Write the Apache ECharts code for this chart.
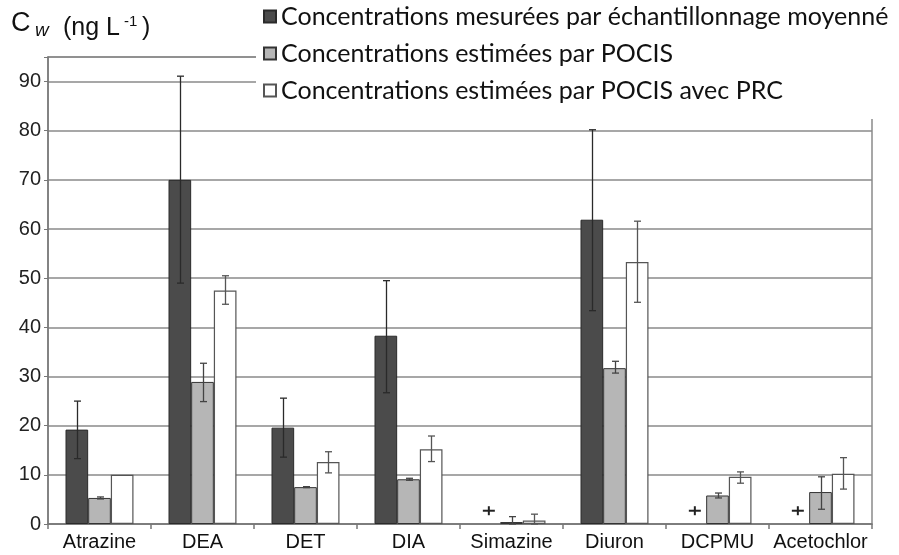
<!DOCTYPE html>
<html>
<head>
<meta charset="utf-8">
<script src="https://cdn.jsdelivr.net/npm/echarts@6/dist/echarts.min.js"></script>
<style>html,body{margin:0;padding:0;background:#fff}#c{width:899px;height:555px}</style>
</head>
<body>
<div id="c"></div>
<script>
const categories = ['Atrazine','DEA','DET','DIA','Simazine','Diuron','DCPMU','Acetochlor'];
const seriesNames = ['Concentrations mesurées par échantillonnage moyenné','Concentrations estimées par POCIS','Concentrations estimées par POCIS avec PRC'];
const measured     = [19.2, 70.0, 19.6, 38.3, null, 61.9, null, null];
const measuredLow  = [13.3, 49.0, 13.6, 26.7, null, 43.4, null, null];
const measuredHigh = [25.0, 91.1, 25.6, 49.5, null, 80.2, null, null];
const pocis        = [5.3, 28.9, 7.5, 9.1, 0.4, 31.7, 5.8, 6.5];
const pocisLow     = [5.1, 24.9, 7.4, 8.9, 0.0, 30.7, 5.3, 3.0];
const pocisHigh    = [5.5, 32.7, 7.6, 9.3, 1.5, 33.1, 6.3, 9.6];
const prc          = [10.0, 47.5, 12.6, 15.2, 0.7, 53.3, 9.6, 10.2];
const prcLow       = [null, 44.7, 10.4, 12.7, 0.0, 45.1, 8.3, 7.1];
const prcHigh      = [null, 50.5, 14.7, 17.9, 2.0, 61.6, 10.6, 13.5];
const belowLimit   = [null, null, null, null, 2.7, null, 2.7, 2.7];
const yTicks = [0,10,20,30,40,50,60,70,80,90];

const BAR_FRAC = 0.22;
function errData(lo, hi){ return categories.map((c,i)=>[i, lo[i], hi[i]]).filter(d=>d[1]!=null && d[2]!=null); }
function errRender(offIdx, color){
  return function(params, api){
    const ci = api.value(0), lo = api.value(1), hi = api.value(2);
    const band = api.size([1,0])[0];
    const bw = band*BAR_FRAC;
    const pLo = api.coord([ci, lo]), pHi = api.coord([ci, hi]);
    const x = Math.round(pLo[0] + (offIdx-1)*bw) + 0.5;
    const cap = 3.5;
    const st = {stroke:color, lineWidth:1.3};
    return {type:'group', children:[
      {type:'line', shape:{x1:x,y1:pLo[1],x2:x,y2:pHi[1]}, style:st},
      {type:'line', shape:{x1:x-cap,y1:pLo[1],x2:x+cap,y2:pLo[1]}, style:st},
      {type:'line', shape:{x1:x-cap,y1:pHi[1],x2:x+cap,y2:pHi[1]}, style:st}
    ]};
  };
}
function plusRender(params, api){
  const ci = api.value(0), v = api.value(1);
  const band = api.size([1,0])[0];
  const bw = band*BAR_FRAC;
  const p = api.coord([ci, v]);
  const x = p[0] - bw, y = p[1];
  const st = {stroke:'#222', lineWidth:2};
  return {type:'group', children:[
    {type:'line', shape:{x1:x-6,y1:y,x2:x+6,y2:y}, style:st},
    {type:'line', shape:{x1:x,y1:y-4.5,x2:x,y2:y+4.5}, style:st}
  ]};
}

const chart = echarts.init(document.getElementById('c'));
const axisFont = 'Liberation Sans, Arial, sans-serif';
chart.setOption({
  animation:false,
  backgroundColor:'#fff',
  grid:{left:48,right:27,top:57,bottom:31,show:true,borderColor:'#8a8a8a',borderWidth:1.5,backgroundColor:'transparent'},
  legend:{
    orient:'vertical', left:256, top:0,
    padding:[4,10,16,7], itemGap:12, itemWidth:12, itemHeight:12,
    icon:'rect',
    backgroundColor:'#fff', z:20,
    data:seriesNames,
    textStyle:{fontFamily:'Lato, sans-serif', fontSize:25, color:'#111'},
    selectedMode:false
  },
  graphic:[
    {type:'text', x:11, y:10, z:30, style:{text:'C', font:'27px Liberation Sans, Arial, sans-serif', fill:'#111'}},
    {type:'text', x:35, y:21, z:30, style:{text:'w', font:'italic 19px Liberation Sans, Arial, sans-serif', fill:'#111'}},
    {type:'text', x:63, y:16, z:30, style:{text:'(ng L', font:'25px Liberation Sans, Arial, sans-serif', fill:'#111'}},
    {type:'text', x:124, y:14, z:30, style:{text:'-1', font:'15px Liberation Sans, Arial, sans-serif', fill:'#111'}},
    {type:'text', x:142, y:16, z:30, style:{text:')', font:'25px Liberation Sans, Arial, sans-serif', fill:'#111'}}
  ],
  xAxis:{
    type:'category', data:categories,
    axisLine:{lineStyle:{color:'#777',width:1.5}},
    axisTick:{show:true,length:5,lineStyle:{color:'#777',width:1.5}},
    axisLabel:{fontFamily:axisFont,fontSize:20,color:'#111',margin:8,interval:0,hideOverlap:false},
    splitLine:{show:false}
  },
  yAxis:{
    type:'value', min:0, max:95, interval:10,
    axisLine:{show:true,lineStyle:{color:'#777',width:1.5}},
    axisTick:{show:true,length:4,lineStyle:{color:'#777'}},
    axisLabel:{fontFamily:axisFont,fontSize:20,color:'#222',margin:7,
      formatter:function(v){ return yTicks.indexOf(v)>=0 ? String(v) : ''; }},
    splitLine:{show:true,lineStyle:{color:'#8a8a8a',width:1.5}}
  },
  series:[
    {name:seriesNames[0], type:'bar', data:measured, barWidth:'22%', barGap:'0%',
      itemStyle:{color:'#4b4b4b',borderColor:'#2a2a2a',borderWidth:1}},
    {name:seriesNames[1], type:'bar', data:pocis, barWidth:'22%', barGap:'0%',
      itemStyle:{color:'#b6b6b6',borderColor:'#333',borderWidth:1}},
    {name:seriesNames[2], type:'bar', data:prc, barWidth:'22%', barGap:'0%',
      itemStyle:{color:'#ffffff',borderColor:'#555',borderWidth:1.2}},
    {type:'custom', z:5, renderItem:errRender(0,'#2a2a2a'), data:errData(measuredLow,measuredHigh), encode:{x:0,y:[1,2]}, silent:true},
    {type:'custom', z:5, renderItem:errRender(1,'#444'), data:errData(pocisLow,pocisHigh), encode:{x:0,y:[1,2]}, silent:true},
    {type:'custom', z:5, renderItem:errRender(2,'#555'), data:errData(prcLow,prcHigh), encode:{x:0,y:[1,2]}, silent:true},
    {type:'custom', z:5, renderItem:plusRender, data:categories.map((c,i)=>[i,belowLimit[i]]).filter(d=>d[1]!=null), encode:{x:0,y:1}, silent:true}
  ]
});
</script>
</body>
</html>
